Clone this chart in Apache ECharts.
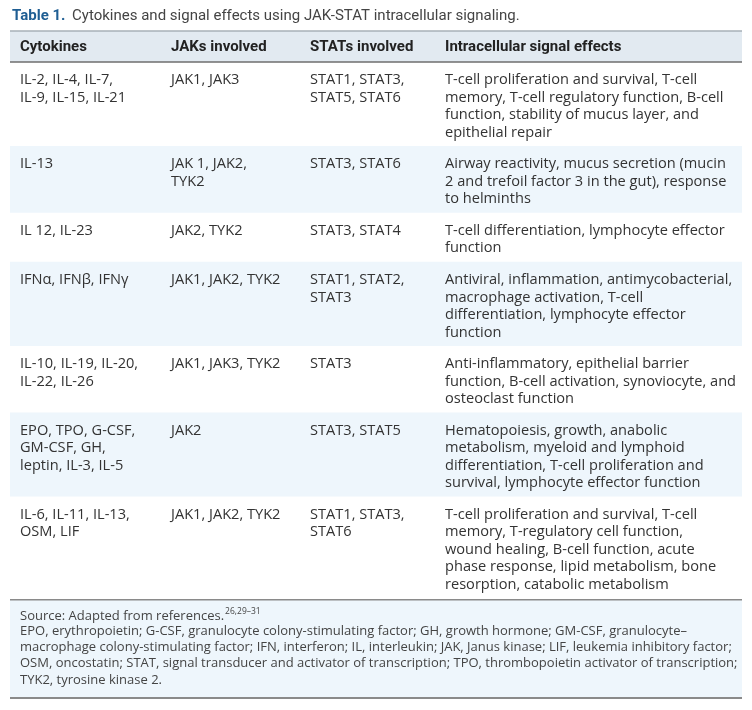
<!DOCTYPE html>
<html>
<head>
<meta charset="utf-8">
<script src="https://cdn.jsdelivr.net/npm/echarts@6/dist/echarts.min.js"></script>
<style>
html,body{margin:0;padding:0;background:#fff;}
#c{width:752px;height:710px;}
</style>
</head>
<body>
<div id="c"></div>
<script>
// ---- table content ----
const titleLabel = "Table 1.";
const titleText = "Cytokines and signal effects using JAK-STAT intracellular signaling.";
const headers = ["Cytokines", "JAKs involved", "STATs involved", "Intracellular signal effects"];
const cytokines = [
  "IL-2, IL-4, IL-7,\nIL-9, IL-15, IL-21",
  "IL-13",
  "IL 12, IL-23",
  "IFNα, IFNβ, IFNγ",
  "IL-10, IL-19, IL-20,\nIL-22, IL-26",
  "EPO, TPO, G-CSF,\nGM-CSF, GH,\nleptin, IL-3, IL-5",
  "IL-6, IL-11, IL-13,\nOSM, LIF"
];
const jaks = [
  "JAK1, JAK3",
  "JAK 1, JAK2,\nTYK2",
  "JAK2, TYK2",
  "JAK1, JAK2, TYK2",
  "JAK1, JAK3, TYK2",
  "JAK2",
  "JAK1, JAK2, TYK2"
];
const stats = [
  "STAT1, STAT3,\nSTAT5, STAT6",
  "STAT3, STAT6",
  "STAT3, STAT4",
  "STAT1, STAT2,\nSTAT3",
  "STAT3",
  "STAT3, STAT5",
  "STAT1, STAT3,\nSTAT6"
];
const effects = [
  "T-cell proliferation and survival, T-cell\nmemory, T-cell regulatory function, B-cell\nfunction, stability of mucus layer, and\nepithelial repair",
  "Airway reactivity, mucus secretion (mucin\n2 and trefoil factor 3 in the gut), response\nto helminths",
  "T-cell differentiation, lymphocyte effector\nfunction",
  "Antiviral, inflammation, antimycobacterial,\nmacrophage activation, T-cell\ndifferentiation, lymphocyte effector\nfunction",
  "Anti-inflammatory, epithelial barrier\nfunction, B-cell activation, synoviocyte, and\nosteoclast function",
  "Hematopoiesis, growth, anabolic\nmetabolism, myeloid and lymphoid\ndifferentiation, T-cell proliferation and\nsurvival, lymphocyte effector function",
  "T-cell proliferation and survival, T-cell\nmemory, T-regulatory cell function,\nwound healing, B-cell function, acute\nphase response, lipid metabolism, bone\nresorption, catabolic metabolism"
];
const sourceText = "Source: Adapted from references.";
const sourceRefs = "26,29–31";
const footnoteLines = [
  "EPO, erythropoietin; G-CSF, granulocyte colony-stimulating factor; GH, growth hormone; GM-CSF, granulocyte–",
  "macrophage colony-stimulating factor; IFN, interferon; IL, interleukin; JAK, Janus kinase; LIF, leukemia inhibitory factor;",
  "OSM, oncostatin; STAT, signal transducer and activator of transcription; TPO, thrombopoietin activator of transcription;",
  "TYK2, tyrosine kinase 2."
];

// ---- layout ----
const TFONT = "Roboto";
const BFONT = "'Open Sans'";
const left = 10, right = 742;
const colX = [20, 171, 310, 445];
const headTop = 31, headBottom = 62;
const lh = 17.5, pad = 14.1, padTop = 9.3;
const bodyColor = "#333";
const stripe = "#eef6fc";

const els = [];
// title
els.push({
  type: "text", x: 12, y: 16,
  style: {
    text: "{b|" + titleLabel + "}  {n|" + titleText + "}",
    verticalAlign: "middle",
    rich: {
      b: {font: "bold 15px " + TFONT, fill: "#1f5e93"},
      n: {font: "15px " + TFONT, fill: "#444"}
    }
  }
});
// header band
els.push({type: "rect", shape: {x: left, y: headTop, width: right - left, height: headBottom - headTop},
  style: {fill: "#e2eaf1"}});
els.push({type: "line", shape: {x1: left, y1: headTop, x2: right, y2: headTop}, style: {stroke: "#a7b0b7", lineWidth: 1.5}});
headers.forEach((h, i) => {
  els.push({type: "text", x: colX[i], y: (headTop + headBottom) / 2 + 0.5,
    style: {text: h, font: "bold 15px " + TFONT, fill: "#222", verticalAlign: "middle"}});
});

// body rows
let y = headBottom;
const cols = [cytokines, jaks, stats, effects];
for (let r = 0; r < cytokines.length; r++) {
  const n = Math.max(...cols.map(c => c[r].split("\n").length));
  const h = n * lh + pad;
  if (r % 2 === 1) {
    els.push({type: "rect", shape: {x: left, y: y, width: right - left, height: h}, style: {fill: stripe}});
  }
  cols.forEach((c, i) => {
    els.push({type: "text", x: colX[i], y: y + padTop,
      style: {text: c[r], font: "14.6px " + BFONT, fill: bodyColor, lineHeight: lh, verticalAlign: "top"}});
  });
  y += h;
}
els.push({type: "line", shape: {x1: left, y1: headBottom, x2: right, y2: headBottom}, style: {stroke: "#6e6e6e", lineWidth: 1.5}});

// footer
const footTop = y + 1.5, footBottom = 698;
els.push({type: "rect", shape: {x: left, y: footTop, width: right - left, height: footBottom - footTop}, style: {fill: stripe}});
els.push({type: "line", shape: {x1: left, y1: footTop, x2: right, y2: footTop}, style: {stroke: "#8a8a8a", lineWidth: 1.5}});
els.push({type: "line", shape: {x1: left, y1: footBottom, x2: right, y2: footBottom}, style: {stroke: "#8a8a8a", lineWidth: 2}});
const flh = 16.3;
const ffont = "13px " + BFONT;
els.push({type: "text", x: 20, y: footTop + 7,
  style: {
    text: "{n|" + sourceText + "}{s|" + sourceRefs + "}",
    verticalAlign: "top",
    rich: {
      n: {font: ffont, fill: "#444", lineHeight: flh, verticalAlign: "bottom"},
      s: {font: "8.5px " + BFONT, fill: "#444", lineHeight: flh, verticalAlign: "top", padding: [0, 0, 6, 1]}
    }
  }});
els.push({type: "text", x: 20, y: footTop + 7 + flh,
  style: {text: footnoteLines.join("\n"), font: ffont, fill: "#444", lineHeight: flh, verticalAlign: "top"}});

const chart = echarts.init(document.getElementById("c"), null, {renderer: "canvas"});
chart.setOption({animation: false, backgroundColor: "#fff", graphic: {elements: els}});
</script>
</body>
</html>
